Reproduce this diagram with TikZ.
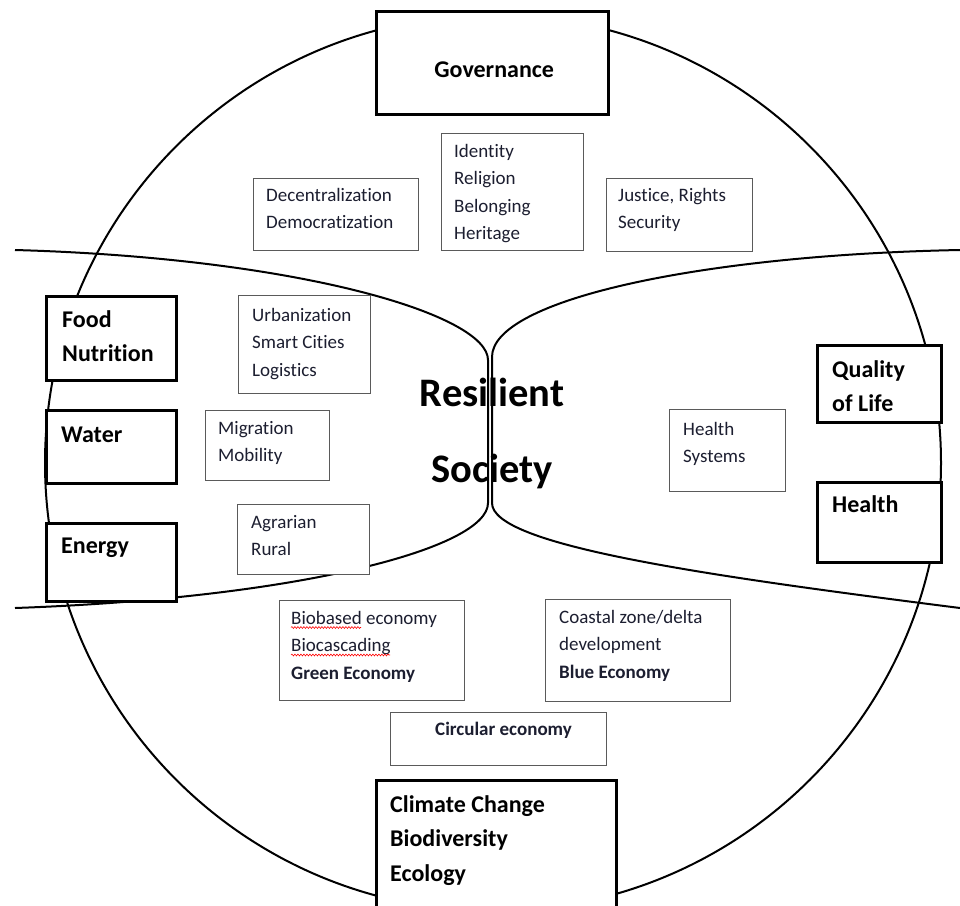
\documentclass[tikz,border=0pt]{standalone}
\usepackage{fontspec}
\setmainfont{Carlito}[Ligatures=NoCommon]
\usepackage{tikz}
\usetikzlibrary{decorations.pathmorphing}

\definecolor{ink}{RGB}{28,30,48}
\definecolor{boxgray}{RGB}{90,90,90}

\begin{document}
\begin{tikzpicture}[
		x=1pt, y=-1pt,
		lens/.style={line width=2pt},
		thinbox/.style={draw=boxgray, line width=1.3pt, fill=white, anchor=north west, inner sep=0pt},
		thickbox/.style={draw=black, line width=3.4pt, fill=white, anchor=north west, inner sep=0pt},
		note/.style={anchor=north west, align=left, inner sep=0pt, text=ink, font={\fontsize{19}{27.5}\selectfont}},
		theme/.style={anchor=north west, align=left, inner sep=0pt, font={\bfseries\fontsize{24}{34.5}\selectfont}},
		spellmark/.style={red, line width=0.6pt, decorate, decoration={snake, amplitude=0.9pt, segment length=3pt}}
	]
	\useasboundingbox (0,0) rectangle (960,905);

	% centre words sit under the lens lines
	\node[align=center, inner sep=0pt, anchor=north, font={\bfseries\fontsize{40.5}{76}\selectfont}]
		(core) at (492,353) {\strut Resilient\\Society};

	% outer circle and the two lenses
	\draw[lens] (493,463) circle[radius=448pt];
	\draw[lens] (15,250) .. controls (300,258) and (488,315) .. (488,360) -- (488,503)
		.. controls (488,548) and (300,598) .. (15,608);
	\draw[lens] (960,250) .. controls (700,255) and (492,300) .. (492,357) -- (492,503)
		.. controls (492,545) and (700,575) .. (960,608);

	% main themes
	\node[thickbox, minimum width=232, minimum height=103] (gov) at (375,10) {};
	\node[thickbox, minimum width=130, minimum height=84] (food) at (45,295) {};
	\node[thickbox, minimum width=130, minimum height=73] (water) at (45,409) {};
	\node[thickbox, minimum width=130, minimum height=78] (energy) at (45,522) {};
	\node[thickbox, minimum width=124, minimum height=77] (quality) at (816,344) {};
	\node[thickbox, minimum width=124, minimum height=80] (health) at (816,481) {};
	\node[thickbox, minimum width=240, minimum height=135] (climate) at (375,779) {};

	\node[anchor=base, inner sep=0pt, font={\bfseries\fontsize{24}{34.5}\selectfont}]
		(gov-t) at ([shift={(1.5,14.5)}]gov.center) {Governance};
	\node[theme] (food-t) at ([shift={(17,8)}]food.north west) {\strut Food\\Nutrition};
	\node[theme] (water-t) at ([shift={(16,9)}]water.north west) {\strut Water};
	\node[theme] (energy-t) at ([shift={(16,7)}]energy.north west) {\strut Energy};
	\node[theme] (quality-t) at ([shift={(16,9)}]quality.north west) {\strut Quality\\of Life};
	\node[theme] (health-t) at ([shift={(16,7)}]health.north west) {\strut Health};
	\node[theme] (climate-t) at ([shift={(15,9)}]climate.north west) {\strut Climate Change\\Biodiversity\\Ecology};

	% sub topics
	\node[thinbox, minimum width=165, minimum height=72] (decentral) at (253,178) {};
	\node[thinbox, minimum width=142, minimum height=117] (identity) at (441,133) {};
	\node[thinbox, minimum width=146, minimum height=73] (justice) at (606,178) {};
	\node[thinbox, minimum width=132, minimum height=98] (urban) at (238,295) {};
	\node[thinbox, minimum width=124, minimum height=70] (migration) at (205,410) {};
	\node[thinbox, minimum width=132, minimum height=70] (agrarian) at (237,504) {};
	\node[thinbox, minimum width=116, minimum height=82] (hsystems) at (669,409) {};
	\node[thinbox, minimum width=185, minimum height=100] (biobased) at (279,600) {};
	\node[thinbox, minimum width=185, minimum height=102] (coastal) at (545,599) {};
	\node[thinbox, minimum width=216, minimum height=53] (circular) at (390,712) {};

	\node[note] (decentral-t) at ([shift={(13,4)}]decentral.north west) {\strut Decentralization\\Democratization};
	\node[note] (identity-t) at ([shift={(13,5)}]identity.north west) {\strut Identity\\Religion\\Belonging\\Heritage};
	\node[note] (justice-t) at ([shift={(12,4)}]justice.north west) {\strut Justice, Rights\\Security};
	\node[note] (urban-t) at ([shift={(14,7)}]urban.north west) {\strut Urbanization\\Smart Cities\\Logistics};
	\node[note] (migration-t) at ([shift={(13,5)}]migration.north west) {\strut Migration\\Mobility};
	\node[note] (agrarian-t) at ([shift={(14,5)}]agrarian.north west) {\strut Agrarian\\Rural};
	\node[note] (hsystems-t) at ([shift={(14,7)}]hsystems.north west) {\strut Health\\Systems};
	\node[note] (biobased-t) at ([shift={(12,5)}]biobased.north west)
		{\strut Biobased economy\\Biocascading\\\textbf{Green Economy}};
	\node[note] (coastal-t) at ([shift={(14,5)}]coastal.north west)
		{\strut Coastal zone/delta\\development\\\textbf{Blue Economy}};
	\node[note, font={\bfseries\fontsize{19}{27.5}\selectfont}] (circular-t) at ([shift={(45,4)}]circular.north west)
		{\strut Circular economy};

	% spell-check marks under two words
	\draw[spellmark] ([shift={(0,22.5)}]biobased-t.north west) -- ++(70,0);
	\draw[spellmark] ([shift={(0,50)}]biobased-t.north west) -- ++(99,0);
\end{tikzpicture}
\end{document}
